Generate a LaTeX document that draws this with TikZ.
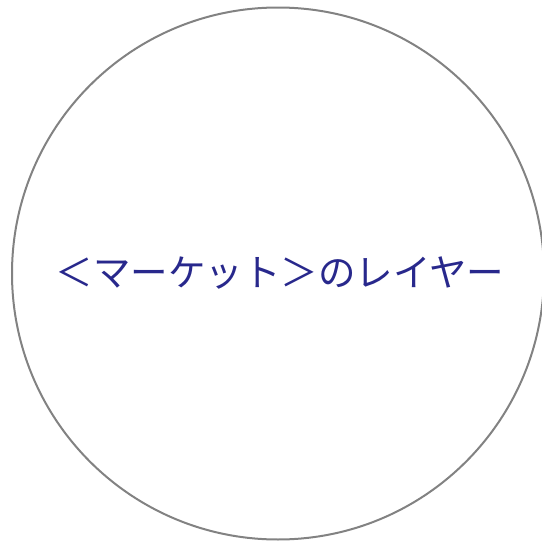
\documentclass[tikz,border=0pt]{standalone}
\usepackage{fontspec}
\newfontfamily\jpfont{Noto Sans CJK JP}
\definecolor{layerblue}{RGB}{40,40,140}
\definecolor{ringgray}{RGB}{130,130,130}

\begin{document}
\begin{tikzpicture}[x=1pt,y=1pt,
    ring/.style={draw=ringgray, line width=2pt},
    layerlabel/.style={text=layerblue, font=\jpfont\fontsize{37.5}{45}\selectfont, inner sep=0pt}]
    \useasboundingbox (0,0) rectangle (542,-541);
    \draw[ring] (278,-273.5) circle (266);
    \node[layerlabel] (label) at (280,-273) {＜マーケット＞のレイヤー};
  \end{tikzpicture}
\end{document}
